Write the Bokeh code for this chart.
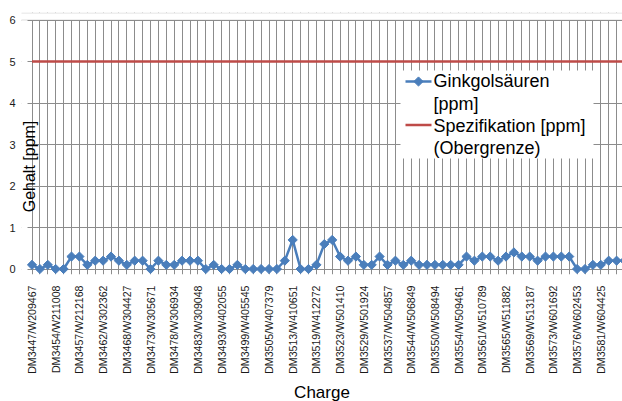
import numpy as np
from bokeh.plotting import figure
from bokeh.models import FixedTicker, Range1d, Label, BoxAnnotation
from bokeh.embed import file_html
from bokeh.resources import INLINE

# ---- data -------------------------------------------------------------
tick_labels = [
    "DM3447/W209467", "DM3454/W211008", "DM3457/W212168", "DM3462/W302362",
    "DM3468/W304427", "DM3473/W305671", "DM3478/W306934", "DM3483/W309048",
    "DM3493/W402055", "DM3499/W405545", "DM3505/W407379", "DM3513/W410651",
    "DM3519/W412272", "DM3523/W501410", "DM3529/W501924", "DM3537/W504857",
    "DM3544/W506849", "DM3550/W508494", "DM3554/W509461", "DM3561/W510789",
    "DM3565/W511882", "DM3569/W513187", "DM3573/W601692", "DM3576/W602453",
    "DM3581/W604425", "DM3586/W605152",
]
label_every = 3

ginkgol = [
    0.1, 0.0, 0.1, 0.0, 0.0, 0.3, 0.3, 0.1, 0.2, 0.2,
    0.3, 0.2, 0.1, 0.2, 0.2, 0.0, 0.2, 0.1, 0.1, 0.2,
    0.2, 0.2, 0.0, 0.1, 0.0, 0.0, 0.1, 0.0, 0.0, 0.0,
    0.0, 0.0, 0.2, 0.7, 0.0, 0.0, 0.1, 0.6, 0.7, 0.3,
    0.2, 0.3, 0.1, 0.1, 0.3, 0.1, 0.2, 0.1, 0.2, 0.1,
    0.1, 0.1, 0.1, 0.1, 0.1, 0.3, 0.2, 0.3, 0.3, 0.2,
    0.3, 0.4, 0.3, 0.3, 0.2, 0.3, 0.3, 0.3, 0.3, 0.0,
    0.0, 0.1, 0.1, 0.2, 0.2, 0.2,
]
spec_limit = 5.0
spezifikation = [spec_limit] * len(ginkgol)
y_ticks = [0, 1, 2, 3, 4, 5, 6]

n = len(ginkgol)
idx = list(range(n))

# ---- geometry (canvas pixels, matched to the reference) ---------------
px_x = 7.9      # px per category
px_y = 41.5     # px per unit
F_LEFT, F_TOP, F_W, F_H = 21, 12, 601, 262

def dx(px):   # canvas x -> data x
    return (px - 31.5) / px_x

def dy(py):   # canvas y -> data y
    return (268.5 - py) / px_y

BLUE = "#4a7ebb"
RED = "#be4b48"
GRID = "#8c8c8c"
FONT = "Liberation Sans"

p = figure(frame_width=F_W, frame_height=F_H, output_backend="svg",
           toolbar_location=None,
           x_range=Range1d(dx(F_LEFT), dx(F_LEFT + F_W)),
           y_range=Range1d(dy(F_TOP + F_H), dy(F_TOP)),
           min_border_left=F_LEFT, min_border_right=0, min_border_top=F_TOP,
           min_border_bottom=401 - F_TOP - F_H)
p.outline_line_color = None
p.background_fill_color = "white"
p.border_fill_color = "white"

# x axis
p.xaxis.ticker = FixedTicker(ticks=list(range(0, n, label_every)), minor_ticks=idx)
p.xaxis.major_label_overrides = {i * label_every: lab for i, lab in enumerate(tick_labels)}
p.xaxis.major_label_orientation = np.pi / 2
p.xaxis.axis_line_color = None
p.xaxis.major_tick_line_color = None
p.xaxis.minor_tick_line_color = None
p.xaxis.major_label_standoff = 5
p.xaxis.major_label_text_font = FONT
p.xaxis.major_label_text_font_size = "10.6px"
p.xaxis.major_label_text_color = "#1a1a1a"
p.xaxis.axis_label = "Charge"
p.xaxis.axis_label_text_font = FONT
p.xaxis.axis_label_text_font_size = "17px"
p.xaxis.axis_label_text_font_style = "normal"
p.xaxis.axis_label_text_color = "#000000"
p.xaxis.axis_label_standoff = 6

# y axis
p.yaxis.ticker = FixedTicker(ticks=y_ticks)
p.yaxis.axis_line_color = None
p.yaxis.major_tick_line_color = None
p.yaxis.minor_tick_line_color = None
p.yaxis.major_label_standoff = 0
p.yaxis.major_label_text_font = FONT
p.yaxis.major_label_text_font_size = "11px"
p.yaxis.major_label_text_color = "#1a1a1a"

# grids
p.xgrid.ticker = FixedTicker(ticks=idx)
p.grid.grid_line_color = GRID
p.grid.grid_line_width = 1

# white strip left of the value axis: horizontal gridlines only stick out as ticks
p.add_layout(BoxAnnotation(left=dx(0), right=dx(27), top=dy(0), bottom=dy(400),
                           fill_color="white", fill_alpha=1.0, line_color=None,
                           level="underlay"))
# strip above the top gridline, with the chart-area border on its upper edge
p.add_layout(BoxAnnotation(left=dx(-50), right=dx(2000), top=dy(12.5), bottom=dy(19.5),
                           fill_color="white", fill_alpha=1.0, line_color="#8a8a8a",
                           line_width=1, level="underlay"))

# legend background
p.add_layout(BoxAnnotation(left=dx(400), right=dx(593), top=dy(70), bottom=dy(158),
                           fill_color="white", fill_alpha=1.0, line_color=None,
                           level="underlay"))

# series
p.line(idx, spezifikation, line_color=RED, line_width=2.5)
p.line(idx, ginkgol, line_color=BLUE, line_width=2.5)
p.scatter(idx, ginkgol, marker="square", angle=np.pi / 4, size=6.5,
          fill_color=BLUE, line_color=BLUE)

# legend samples
ly1, ly2 = dy(81), dy(124.5)
p.line([dx(405), dx(431)], [ly1, ly1], line_color=BLUE, line_width=2.5)
p.scatter([dx(418)], [ly1], marker="square", angle=np.pi / 4, size=6.5,
          fill_color=BLUE, line_color=BLUE)
p.line([dx(405), dx(431)], [ly2, ly2], line_color=RED, line_width=2.5)

for txt, py in [("Ginkgolsäuren", 80), ("[ppm]", 103),
                ("Spezifikation [ppm]", 125), ("(Obergrenze)", 147)]:
    p.add_layout(Label(x=dx(433), y=dy(py), text=txt, text_font=FONT,
                       text_font_size="18px", text_color="#000000",
                       text_align="left", text_baseline="middle"))

# value axis title (sits over the axis, as in the reference)
p.add_layout(Label(x=dx(28.5), y=dy(166), text="Gehalt [ppm]", text_font=FONT,
                   text_font_size="16px", text_color="#000000", angle=np.pi / 2,
                   text_align="center", text_baseline="middle"))

open("out.html", "w").write(file_html(p, INLINE))
